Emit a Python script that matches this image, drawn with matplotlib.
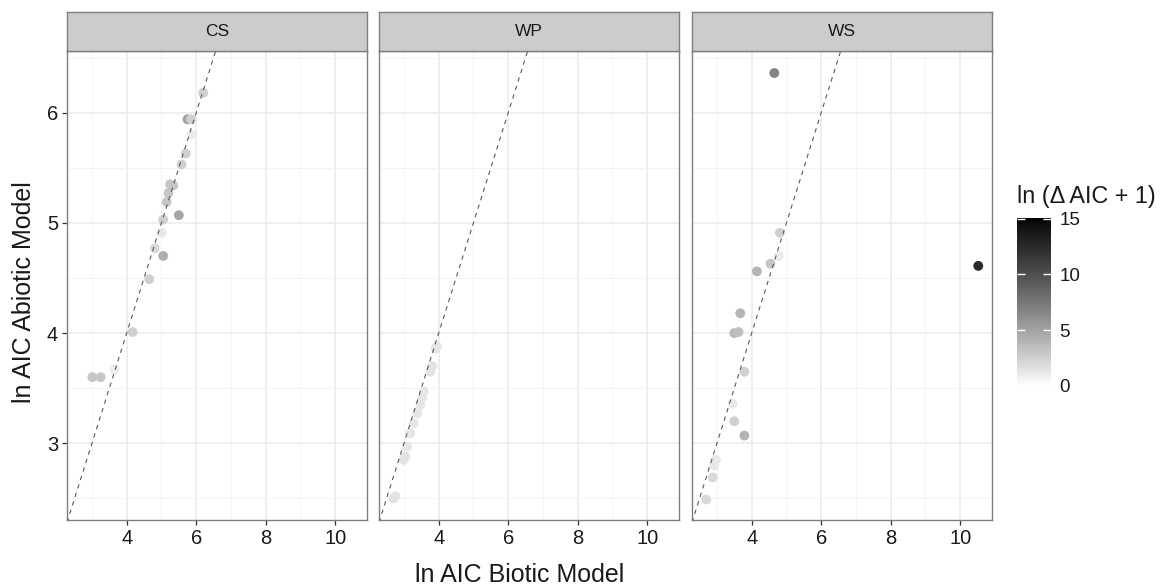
import numpy as np
import matplotlib
matplotlib.use("Agg")
import matplotlib.pyplot as plt
from matplotlib.colors import ListedColormap, Normalize
from matplotlib.cm import ScalarMappable

plt.rcParams['font.family'] = ['Liberation Sans', 'DejaVu Sans']

# facet names
panels = ["CS", "WP", "WS"]

# ln AIC biotic (x), ln AIC abiotic (y), ln(delta AIC + 1) (colour)
cs_x = [6.20, 5.75, 5.85, 5.87, 5.70, 5.58, 5.34, 5.25, 5.20, 5.15, 5.50, 5.05,
        5.01, 4.81, 5.05, 4.65, 4.17, 3.66, 3.01, 3.25]
cs_y = [6.18, 5.94, 5.94, 5.80, 5.63, 5.53, 5.34, 5.35, 5.27, 5.19, 5.07, 5.03,
        4.91, 4.77, 4.70, 4.49, 4.01, 3.67, 3.60, 3.60]
cs_c = [2.5, 5.0, 2.5, 1.0, 2.5, 2.5, 3.0, 3.0, 3.0, 3.0, 4.8, 2.5,
        1.2, 2.0, 4.3, 2.5, 2.5, 1.0, 3.0, 3.0]

wp_x = [3.95, 3.91, 3.81, 3.76, 3.57, 3.52, 3.47, 3.38, 3.28, 3.18, 3.09, 3.04,
        2.99, 2.75, 2.70]
wp_y = [3.88, 3.86, 3.70, 3.65, 3.47, 3.41, 3.35, 3.27, 3.18, 3.09, 2.97, 2.88,
        2.85, 2.52, 2.50]
wp_c = [1.3, 1.3, 1.5, 1.5, 1.3, 1.3, 1.3, 1.3, 1.3, 1.3, 1.3, 1.5,
        1.5, 1.5, 1.5]

ws_x = [4.65, 4.81, 4.78, 4.54, 4.15, 10.52, 3.67, 3.50, 3.62, 3.79, 3.45, 3.50,
        3.79, 2.97, 2.92, 2.88, 2.69]
ws_y = [6.36, 4.91, 4.70, 4.63, 4.56, 4.61, 4.18, 4.00, 4.01, 3.65, 3.36, 3.20,
        3.07, 2.85, 2.80, 2.69, 2.49]
ws_c = [6.8, 2.5, 1.0, 3.0, 4.0, 12.5, 4.0, 3.8, 3.5, 2.5, 1.2, 2.5,
        4.0, 1.2, 1.2, 2.0, 2.0]

data = {"CS": (cs_x, cs_y, cs_c), "WP": (wp_x, wp_y, wp_c), "WS": (ws_x, ws_y, ws_c)}

cbar_ticks = [0, 5, 10, 15]
c_min, c_max = 0, 15.05


# white -> black gradient interpolated in L* like ggplot
def lab_grey(n=256):
    L = np.linspace(100, 0, n)
    fy = (L + 16) / 116
    Y = np.where(L > 8, fy ** 3, L / 903.3)
    s = np.where(Y <= 0.0031308, 12.92 * Y, 1.055 * Y ** (1 / 2.4) - 0.055)
    s = np.clip(s, 0, 1)
    return ListedColormap(np.column_stack([s, s, s, np.ones(n)]))


cmap = lab_grey()
norm = Normalize(c_min, c_max)

W, H = 1163, 588
fig = plt.figure(figsize=(W / 100, H / 100), dpi=100)


def rect(x0, y0, x1, y1):
    return [x0 / W, 1 - y1 / H, (x1 - x0) / W, (y1 - y0) / H]


lefts = [67, 379, 692]
pw = 300
top, bottom, strip_top = 51, 520, 12
xlim = (2.282, 10.915)
ylim = (2.304, 6.56)
border = "#7f7f7f"
txt = "#1a1a1a"

for i, name in enumerate(panels):
    x0 = lefts[i]
    ax = fig.add_axes(rect(x0, top, x0 + pw, bottom))
    xs, ys, cs = data[name]
    ax.set_xlim(xlim)
    ax.set_ylim(ylim)
    ax.set_xticks([4, 6, 8, 10])
    ax.set_xticks([3, 5, 7, 9], minor=True)
    ax.set_yticks([3, 4, 5, 6])
    ax.set_yticks([2.5, 3.5, 4.5, 5.5, 6.5], minor=True)
    ax.grid(True, which="major", color="#ebebeb", lw=1.1)
    ax.grid(True, which="minor", color="#f3f3f3", lw=0.6)
    ax.set_axisbelow(True)
    ax.scatter(xs, ys, c=cs, cmap=cmap, norm=norm, s=50, linewidths=0, zorder=2)
    line = np.array(xlim)
    ax.plot(line, line, color="#5a5a5a", lw=0.8, dashes=(4, 4), zorder=3)
    for sp in ax.spines.values():
        sp.set_color(border)
        sp.set_linewidth(1.0)
    ax.tick_params(which="major", length=3.5, width=0.9, color="#333333",
                   labelsize=14.5, labelcolor=txt, pad=3)
    ax.tick_params(which="minor", length=0)
    if i > 0:
        ax.tick_params(axis="y", labelleft=False, length=0)

    sax = fig.add_axes(rect(x0, strip_top, x0 + pw, top))
    sax.set_facecolor("#cccccc")
    sax.set_xticks([])
    sax.set_yticks([])
    for sp in sax.spines.values():
        sp.set_color(border)
        sp.set_linewidth(1.0)
    sax.text(0.5, 0.5, name, ha="center", va="center", fontsize=12.5, color=txt,
             transform=sax.transAxes)

fig.text(520 / W, 1 - 575 / H, "ln AIC Biotic Model", ha="center", va="center",
         fontsize=18, color=txt)
fig.text(24 / W, 1 - 292 / H, "ln AIC Abiotic Model", ha="center", va="center",
         rotation=90, fontsize=18, color=txt)

# colour bar legend
cax = fig.add_axes(rect(1017, 218, 1051, 386))
sm = ScalarMappable(norm=norm, cmap=cmap)
cb = fig.colorbar(sm, cax=cax)
cb.outline.set_visible(False)
cb.set_ticks(cbar_ticks)
cax.tick_params(axis="y", direction="in", length=6, width=1, color="white",
                left=True, right=True, labelleft=False, labelright=True,
                labelsize=13.5, labelcolor=txt, pad=6)
fig.text(1017 / W, 1 - 197 / H, "ln (\u0394 AIC + 1)", ha="left", va="center",
         fontsize=16.8, color=txt)

fig.savefig("out.png", dpi=100)
